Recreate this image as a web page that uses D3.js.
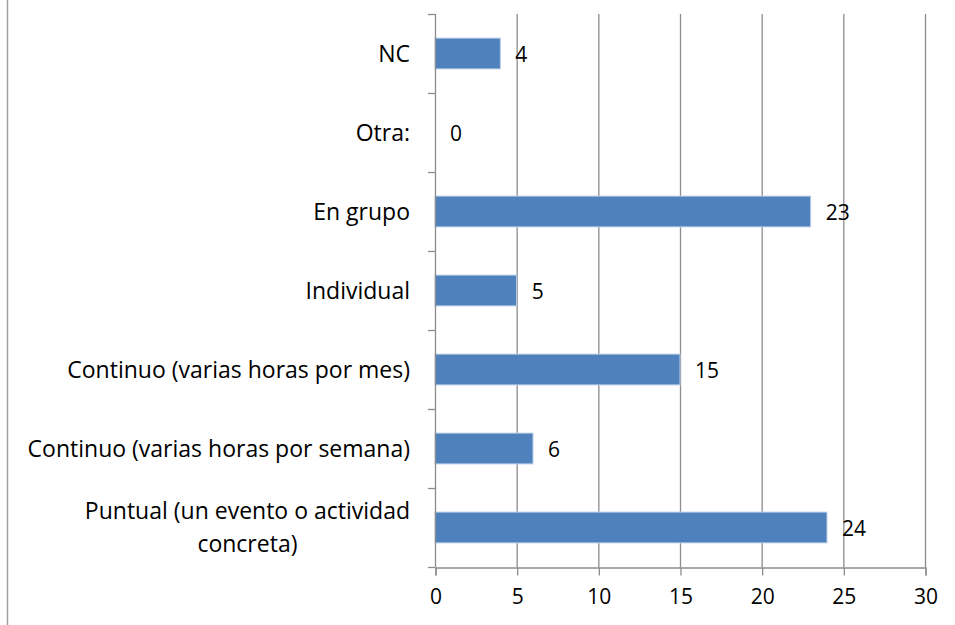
<!DOCTYPE html>
<html lang="es">
<head>
<meta charset="UTF-8">
<title>Tipo de participación</title>
<script src="https://d3js.org/d3.v7.min.js"></script>
<style>
  body { margin: 0; background: #fff; }
  svg { display: block; font-family: "Open Sans", sans-serif; }
</style>
</head>
<body>
<script>
// data, top to bottom as in the picture
const categories = [
  "NC",
  "Otra:",
  "En grupo",
  "Individual",
  "Continuo (varias horas por mes)",
  "Continuo (varias horas por semana)",
  ["Puntual (un evento o actividad", "concreta)"]
];
const values = [4, 0, 23, 5, 15, 6, 24];
const xTicks = [0, 5, 10, 15, 20, 25, 30];

const W = 955, H = 625;
const m = { top: 14, right: 30, bottom: 58, left: 435 };
const FS = 23, FN = 21;

const svg = d3.select("body").append("svg")
  .attr("width", W).attr("height", H);

// outer frame line on the left
svg.append("line")
  .attr("x1", 7.5).attr("x2", 7.5).attr("y1", 0).attr("y2", H)
  .attr("stroke", "#a0a0a0").attr("stroke-width", 1.5);

const keys = d3.range(categories.length);

let x = d3.scaleLinear().domain([0, 30]).range([m.left, W - m.right]);
let y = d3.scaleBand().domain(keys).range([m.top, H - m.bottom]).paddingInner(0.61).paddingOuter(0.305);

// grid lines
svg.append("g")
  .selectAll("line")
  .data(xTicks.slice(1))
  .join("line")
  .attr("x1", d => x(d) + 0.5).attr("x2", d => x(d) + 0.5)
  .attr("y1", m.top).attr("y2", H - m.bottom)
  .attr("stroke", "#8c8c8c").attr("stroke-width", 1.3);

// bars
svg.append("g")
  .selectAll("rect")
  .data(values)
  .join("rect")
  .attr("x", x(0))
  .attr("y", (d, i) => y(i))
  .attr("width", d => x(d) - x(0))
  .attr("height", y.bandwidth())
  .attr("fill", "#4f81bd")
  .attr("stroke", d => d > 0 ? "#bcd0ea" : "none")
  .attr("stroke-width", 1);

// y axis: line with tick marks at band boundaries
const yEdges = d3.range(categories.length + 1).map(i => m.top + i * (H - m.bottom - m.top) / categories.length);
const yAxis = svg.append("g");
yAxis.append("line")
  .attr("x1", x(0) + 0.5).attr("x2", x(0) + 0.5)
  .attr("y1", m.top).attr("y2", H - m.bottom)
  .attr("stroke", "#8c8c8c").attr("stroke-width", 1.3);
yAxis.selectAll("line.tk")
  .data(yEdges)
  .join("line").attr("class", "tk")
  .attr("x1", x(0) - 7).attr("x2", x(0))
  .attr("y1", d => d + 0.5).attr("y2", d => d + 0.5)
  .attr("stroke", "#8c8c8c").attr("stroke-width", 1.3);

// category labels
const labelRight = x(0) - 25;
const catG = svg.append("g").attr("font-size", FS).attr("fill", "#000");
categories.forEach((c, i) => {
  const cy = y(i) + y.bandwidth() / 2;
  if (Array.isArray(c)) {
    const t = catG.append("text").attr("text-anchor", "middle");
    const spans = c.map((line, k) => t.append("tspan")
        .attr("y", cy + (k - (c.length - 1) / 2) * 33 + 8)
        .text(line));
    const wMax = d3.max(spans, s => s.node().getComputedTextLength());
    spans.forEach(s => s.attr("x", labelRight - wMax / 2));
  } else {
    catG.append("text")
      .attr("x", labelRight).attr("y", cy + 8)
      .attr("text-anchor", "end")
      .text(c);
  }
});

// value labels
svg.append("g").attr("font-size", FN)
  .selectAll("text")
  .data(values)
  .join("text")
  .attr("x", d => x(d) + 15)
  .attr("y", (d, i) => y(i) + y.bandwidth() / 2 + 8)
  .text(d => d);

// x axis
const xAxis = d3.axisBottom(x).tickValues(xTicks).tickSize(8).tickPadding(14);
const gx = svg.append("g")
  .attr("transform", `translate(0.5,${H - m.bottom + 0.5})`)
  .call(xAxis);
gx.select(".domain").attr("stroke", "#8c8c8c").attr("stroke-width", 1.3);
gx.selectAll(".tick line").attr("stroke", "#8c8c8c").attr("stroke-width", 1.3);
gx.selectAll(".tick text")
  .attr("font-size", FN).attr("font-family", "'Open Sans', sans-serif")
  .attr("fill", "#000");
</script>
</body>
</html>
